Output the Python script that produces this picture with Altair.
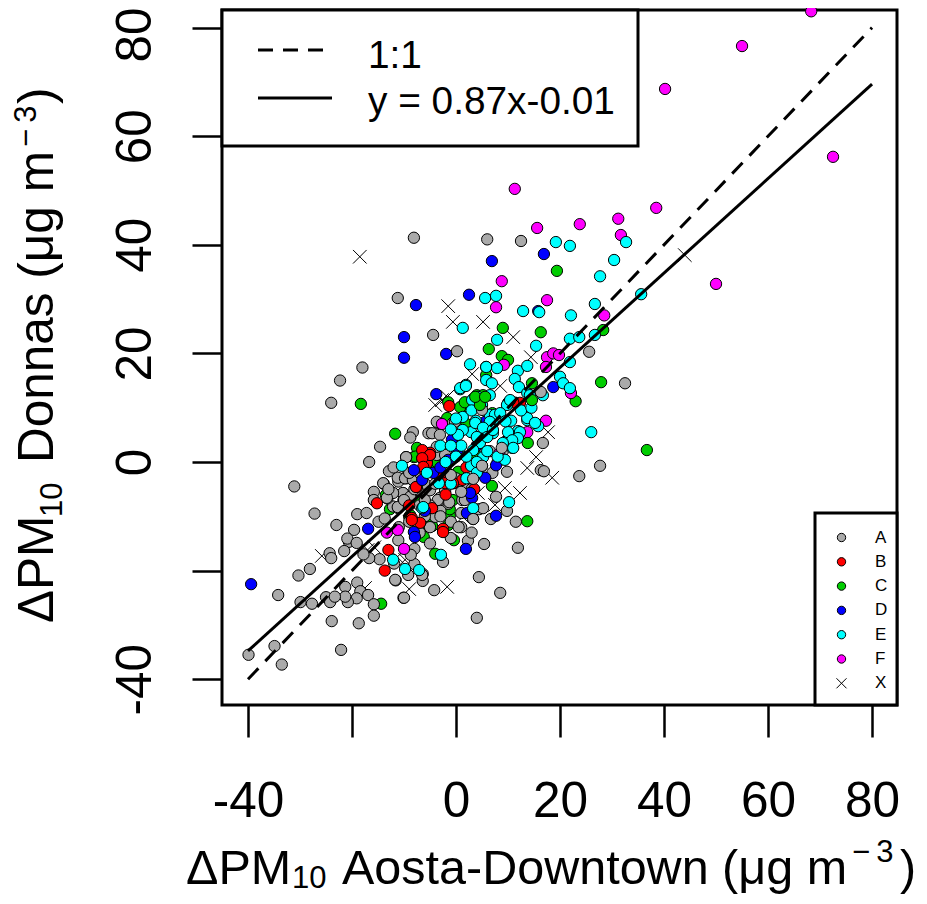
import altair as alt
import pandas as pd

A_x = [-18.0,-22.3,-24.0,-31.1,-27.2,-23.0,-14.6,-16.7,-12.9,-13.9,-15.8,-15.8,-19.0,-17.2,-19.6,-14.9,-13.7,-20.6,-20.9,-19.1,-21.5,-24.3,-24.0,-28.1,-30.3,-34.2,-29.9,-27.7,-25.0,-24.2,-21.3,-19.0,-18.4,-19.1,-20.8,-21.3,-23.3,-16.9,-15.8,-15.8,-18.7,-23.9,-22.1,-34.9,-39.9,-33.5,-10.1,-6.4,-6.4,-11.6,-8.0,-11.9,-14.7,-16.7,-17.8,-8.0,-11.1,-8.3,-8.8,-5.3,-9.6,-11.1,-10.1,-9.5,-8.3,-12.1,-11.1,-13.2,-10.1,-8.1,6.0,12.5,-11.2,-4.4,0.2,25.6,32.5,27.7,23.7,16.3,16.9,16.7,11.9,8.5,4.0,4.4,5.4,2.3,-2.5,-4.2,-6.5,-10.0,-11.7,-9.2,-8.7,11.5,9.8,9.8,7.7,4.4,5.2,3.3,6.7,1.2,-1.5,-2.1,-3.1,-4.0,-3.5,-4.6,-0.6,-3.5,5.0,-14.0,-3.7,-3.7,-11.2,-9.8,-8.3,-10.2,-12.1,-13.3,-11.2,-8.8,-6.9,-5.0,-1.2,-2.1,-3.1,-7.0,-6.0,-5.0,-3.0,-1.0,1.0,3.0,-9.0,-7.0,-5.0,-11.0,-3.5,-1.3,1.7,1.0,-3.1,-3.7,-9.6,-0.2,-2.1,-6.0,-8.0,-10.0,-4.0,-2.0,0.0,2.0,-7.0,-5.0,-3.0,-12.0,-13.0,-9.0,-6.0,8.0,6.5,4.0,7.0,9.0,-1.0,0.5,3.0]
A_y = [17.4,15.0,10.9,-4.5,-9.5,-11.6,2.8,0.0,-1.7,-4.0,-5.5,-7.0,-9.6,-9.4,-12.5,-11.0,-10.4,-14.7,-14.1,-14.9,-16.4,-16.8,-17.7,-19.7,-20.9,-24.5,-25.8,-26.1,-24.9,-25.8,-23.0,-22.2,-23.8,-25.1,-25.8,-24.8,-24.8,-24.5,-26.2,-28.3,-29.7,-29.3,-34.6,-33.9,-35.5,-37.3,-25.0,-21.9,-20.6,-21.8,-18.8,-18.7,-17.9,-17.7,-17.0,-16.0,-14.4,5.5,4.5,5.3,0.9,-3.6,-5.8,-3.0,-3.3,-8.2,-8.5,-6.7,-7.0,41.3,41.0,40.7,30.2,23.4,20.4,20.3,14.5,-0.7,-2.6,-1.5,-1.7,3.5,-15.8,-24.1,-28.7,-21.2,-15.1,-14.5,-18.4,-23.6,-20.8,-25.0,-21.7,-20.8,-17.1,-11.0,-9.0,-1.8,-6.4,-8.7,-8.5,-10.5,-10.5,-7.0,-7.7,-5.5,-7.0,-10.1,1.3,5.3,7.2,7.2,-0.7,-3.9,7.4,1.3,-2.9,-3.0,-3.3,-5.7,-5.7,-6.6,-8.3,-6.4,-5.2,-5.2,-2.4,-5.2,-6.6,-8.0,-10.0,-12.0,-9.0,-11.0,-12.0,-13.0,-11.0,-13.0,-15.0,-12.0,-7.0,-7.4,-7.0,-9.4,5.0,2.8,0.9,7.4,1.3,-4.0,-5.0,-7.0,-4.0,-1.0,-3.0,-5.0,-2.0,-8.0,-10.0,-1.0,-5.0,-2.0,-7.0,0.0,2.0,3.0,-2.0,2.0,-14.0,-12.0,-5.0]
A_late_x = [8.8,5.0,3.3,16.3,1.0,-1.0,5.0,3.3]
A_late_y = [2.6,-0.7,-3.1,12.9,-5.5,-2.4,9.6,-10.5]
B_x = [-1.3,12.3,5.8,-0.4,1.2,-4.6,-2.5,-6.3,-5.6,-6.5,-7.5,-5.0,-13.0,-13.7,-15.2,-7.7,-8.5,-6.9,-6.5,-5.6,-5.0,-2.0,2.0,-9.0,-3.0,6.0,11.0,3.5,-0.6,-2.1,-2.5,-8.5,-5.0,-6.5,-6.3]
B_y = [10.3,10.9,7.2,-3.9,-3.3,-8.5,-12.3,-1.3,0.0,0.7,-4.6,1.7,-16.2,-20.0,-7.6,-4.6,-10.3,-11.2,2.2,-0.2,1.3,-6.0,-1.0,-8.0,-3.0,5.0,11.0,-5.0,-3.9,-3.9,-12.9,-10.7,1.3,0.7,-0.9]
C_x = [-18.3,19.4,16.3,9.0,6.3,8.8,10.0,5.8,5.8,27.9,36.7,23.0,13.7,-11.7,-14.4,6.9,-0.4,-4.0,28.3,2.3,-1.2,-4.6,4.4,-1.7,1.2,3.8,0.4,-2.5,-4.0,-7.5,-8.1,0.8,3.3,-0.6,-6.2,-9.0,-5.4,-13.5,-12.7,4.0,5.2,1.7,-1.5,-1.2,-5.0,-1.5,-8.8,-3.7,-7.8,7.0,2.0,-10.0,-7.0]
C_y = [10.7,35.2,23.9,24.7,20.8,19.5,18.8,17.5,16.0,14.7,2.2,11.2,-10.9,5.2,-26.1,-4.4,-14.4,-16.9,24.3,-4.8,-9.9,-11.8,10.3,8.1,10.1,1.3,-1.8,2.6,-1.1,2.6,0.9,10.1,11.4,-7.0,-13.8,-10.1,-11.6,-6.1,-8.7,12.3,12.3,11.0,11.0,-8.7,-10.1,-11.6,-9.8,0.0,1.0,9.0,7.0,-3.0,-7.0]
C_late_x = [4.6,3.7,5.6,14.6,13.8,14.6]
C_late_y = [10.5,12.0,12.0,11.4,3.5,14.5]
D_x = [-39.4,6.9,16.9,2.5,-7.7,-10.0,-10.0,-1.9,15.8,-3.8,18.7,-0.8,0.2,-1.5,-4.4,5.6,3.1,2.7,7.7,2.1,7.7,5.6,-16.9,-8.1,-6.5,-8.1,-7.9,1.9,-3.0,4.0,-6.0]
D_y = [-22.5,37.0,38.3,30.8,28.9,23.0,19.2,19.9,27.8,12.5,13.8,4.1,2.0,0.4,-2.0,-2.9,-6.6,-5.7,-9.9,-9.4,-0.6,7.4,-12.3,-1.5,-3.3,-12.9,-13.8,-16.0,-1.0,3.0,-9.0]
E_x = [19.2,21.9,32.7,30.4,27.7,35.6,26.7,22.1,12.9,16.0,5.6,7.7,1.3,7.9,15.4,21.9,23.7,26.7,21.9,2.7,5.8,7.9,5.8,6.9,1.9,0.8,11.9,13.7,11.3,12.1,20.0,20.6,21.9,6.5,13.7,16.7,3.3,26.0,10.2,0.8,1.9,3.1,1.3,3.8,6.5,2.9,1.3,0.4,10.6,13.7,15.8,11.9,11.9,10.8,9.4,9.4,7.1,7.1,4.6,3.3,2.9,5.2,10.0,14.2,3.3,-2.9,-7.1,-10.4,-6.5,-9.8,-12.1,-5.6,-1.0,-2.0,-3.0,4.2,9.8,7.5,6.5,3.7,5.2,4.0,6.0,7.1,10.0,12.3,11.9,10.8,11.0,9.0,13.7,15.2,10.4,-1.0,0.0,1.0,2.0,0.0,-1.0,4.0,6.0,8.0,-3.3,-6.3,8.5,9.5,3.0,5.0,12.5,14.5,2.0,4.0]
E_y = [40.5,39.8,40.5,37.2,34.2,30.9,29.1,27.0,27.8,27.6,30.2,30.6,24.7,22.5,21.4,22.7,23.0,23.4,18.4,18.0,17.5,17.3,15.1,14.5,14.2,13.4,16.8,17.7,15.3,13.8,15.7,14.5,13.6,12.3,12.7,12.3,11.6,5.5,-7.4,13.6,14.0,11.4,8.3,7.6,8.7,5.5,5.9,5.0,7.6,7.7,6.6,5.7,4.6,2.6,0.4,3.7,7.2,5.3,3.5,2.2,-0.7,0.9,10.9,12.3,-8.5,-17.1,-19.9,-0.7,-8.5,-19.7,-18.0,-2.0,-4.0,0.0,3.0,12.0,10.5,8.7,7.4,7.2,6.3,4.6,4.6,5.9,5.5,5.5,4.4,4.0,2.6,3.5,8.1,7.2,11.4,6.0,8.0,3.0,1.0,1.0,3.0,0.0,2.0,1.0,-3.9,-8.3,9.0,7.5,9.5,10.5,9.5,10.0,-3.0,-2.0]
F_x = [68.3,55.0,40.2,72.5,50.0,38.5,31.2,23.8,15.6,11.3,31.7,17.5,8.8,7.7,28.5,17.5,18.7,19.8,17.3,9.2,22.1,17.3,13.7,8.3,-2.7,-13.3,-11.2,-10.0]
F_y = [83.0,76.6,68.7,56.2,32.8,46.8,44.8,43.8,43.1,50.3,41.8,29.8,33.3,28.5,27.0,19.3,20.0,19.7,17.5,17.9,12.7,7.6,5.5,1.5,7.0,-13.0,-12.5,-16.0]
X_x = [-1.5,-0.6,5.2,11.0,14.4,3.1,8.5,-1.7,-18.5,44.0,-25.8,-1.7,-9.0,17.7,15.4,13.7,18.5,12.3,9.4,4.2,7.5,1.3,-4.0,-2.7,-11.3,-9.8,-17.5,-15.7,-17.0]
X_y = [28.7,25.8,25.8,23.0,19.3,16.2,14.0,12.0,37.8,38.1,-17.3,-23.0,-23.4,5.5,0.9,-1.1,-2.9,-5.7,-4.8,-5.7,-7.9,-10.1,10.5,11.4,-17.5,-18.0,-23.2,-15.7,-16.2]

groups = ["A", "B", "C", "D", "E", "F", "X"]
group_colors = ["#AAAAAA", "#FF0000", "#00CD00", "#0000FF", "#00FFFF", "#FF00FF", "transparent"]
X_PATH = "M-1.2,-1.2L1.2,1.2M-1.2,1.2L1.2,-1.2"
group_shapes = ["circle"] * 6 + [X_PATH]
draw_order = [("X", X_x, X_y), ("C", C_x, C_y), ("A", A_x, A_y), ("B", B_x, B_y),
              ("D", D_x, D_y), ("F", F_x, F_y), ("E", E_x, E_y),
              ("A", A_late_x, A_late_y), ("C", C_late_x, C_late_y)]
line_x = [-40, 80]
one_to_one_y = [-40, 80]
fit_y = [-34.8, 69.6]
ticks = [-40, -20, 0, 20, 40, 60, 80]

points = pd.concat([pd.DataFrame({"x": x, "y": y, "g": g}) for g, x, y in draw_order], ignore_index=True)
lines = pd.DataFrame({"x": line_x, "o": one_to_one_y, "f": fit_y})

OX, OY = 222, 10
W, H = 675, 695
BIG = 49.5
XT = 48.5
SUB = 31
FONT = "Liberation Sans"
x_dom = [-45.0, 84.8]
y_dom = [-44.75, 83.24]
x_s = alt.Scale(domain=x_dom, nice=False, zero=False)
y_s = alt.Scale(domain=y_dom, nice=False, zero=False)
label_expr = "datum.value == -20 ? '' : '' + datum.value"

pts = alt.Chart(points).mark_point(filled=True, stroke="black", strokeWidth=1, size=128, opacity=1).encode(
    x=alt.X("x:Q", scale=x_s, axis=alt.Axis(
        values=ticks, labelExpr=label_expr, title=None, grid=False, domain=False,
        tickSize=32, tickWidth=2.5, tickColor="black", labelFontSize=BIG, labelFont=FONT,
        labelColor="black", labelPadding=40, labelOverlap=False, labelFlush=False)),
    y=alt.Y("y:Q", scale=y_s, axis=alt.Axis(
        values=ticks, labelExpr=label_expr, title=None, grid=False, domain=False,
        tickSize=30, tickWidth=2.5, tickColor="black", labelFontSize=BIG, labelFont=FONT,
        labelColor="black", labelAngle=270, labelAlign="center", labelBaseline="bottom",
        labelPadding=32, labelOverlap=False,
        labelOffset={"condition": {"test": "datum.value == 80", "value": 7}, "value": 0})),
    color=alt.Color("g:N", scale=alt.Scale(domain=groups, range=group_colors), legend=alt.Legend(
        orient="none", legendX=611, legendY=519, title=None, padding=0,
        labelFontSize=17, labelFont=FONT, labelColor="black", labelOffset=25,
        symbolSize=70, rowPadding=6.3, symbolStrokeColor="black", symbolStrokeWidth=1,
        values=groups)),
    shape=alt.Shape("g:N", scale=alt.Scale(domain=groups, range=group_shapes), legend=None),
)

one = alt.Chart(lines).mark_line(color="black", strokeWidth=3, strokeDash=[15, 10]).encode(
    x=alt.X("x:Q", scale=x_s), y=alt.Y("o:Q", scale=y_s))
fit = alt.Chart(lines).mark_line(color="black", strokeWidth=3).encode(
    x=alt.X("x:Q", scale=x_s), y=alt.Y("f:Q", scale=y_s))

def label(t, px, py, size, angle=0):
    kw = {"angle": angle} if angle else {}
    return alt.Chart(pd.DataFrame({"t": [t]})).mark_text(
        font=FONT, fontSize=size, color="black", align="left", baseline="alphabetic", **kw
    ).encode(x=alt.value(px - OX), y=alt.value(py - OY), text="t:N")

one_row = pd.DataFrame({"k": ["1:1"]})
box = alt.Chart(one_row).mark_rect(fill="white", stroke="black", strokeWidth=3).encode(
    x=alt.value(0), x2=alt.value(638 - OX), y=alt.value(0), y2=alt.value(146 - OY))
box2 = alt.Chart(one_row).mark_rect(fill="white", stroke="black", strokeWidth=3).encode(
    x=alt.value(815 - OX), x2=alt.value(W), y=alt.value(513 - OY), y2=alt.value(H))
key_dash = alt.Chart(one_row).mark_rule(color="black", strokeWidth=3, strokeDash=[15, 10]).encode(
    x=alt.value(258 - OX), x2=alt.value(332 - OX), y=alt.value(50 - OY))
key_fit = alt.Chart(one_row).mark_rule(color="black", strokeWidth=3).encode(
    x=alt.value(258 - OX), x2=alt.value(332 - OX), y=alt.value(98 - OY))

SUP = "−\u20093"
texts = [
    label("1:1", 368, 68, 38.8),
    label("y = 0.87x-0.01", 368, 114, 38.8),
    label("ΔPM", 186, 884, XT),
    label("10", 292, 888, SUB),
    label("Aosta-Downtown (μg m", 342, 884, XT),
    label(SUP, 852, 862, SUB),
    label(")", 900, 884, XT),
    label("ΔPM", 53, 623, BIG, 270),
    label("10", 62, 517, SUB, 270),
    label("Donnas (μg m", 53, 463, BIG, 270),
    label(SUP, 36, 147, SUB, 270),
    label(")", 53, 104, BIG, 270),
]

chart = alt.layer(pts, one, fit, box, box2, key_dash, key_fit, *texts).properties(
    width=W, height=H,
    autosize=alt.AutoSizeParams(type="none"),
    padding={"left": OX - 8, "top": OY - 8, "right": 911 - (OX - 8) - W, "bottom": 886 - H - (OY - 8)},
).configure_view(stroke="black", strokeWidth=3)

chart.save("out.html", embed_options={"renderer": "svg", "actions": False})
